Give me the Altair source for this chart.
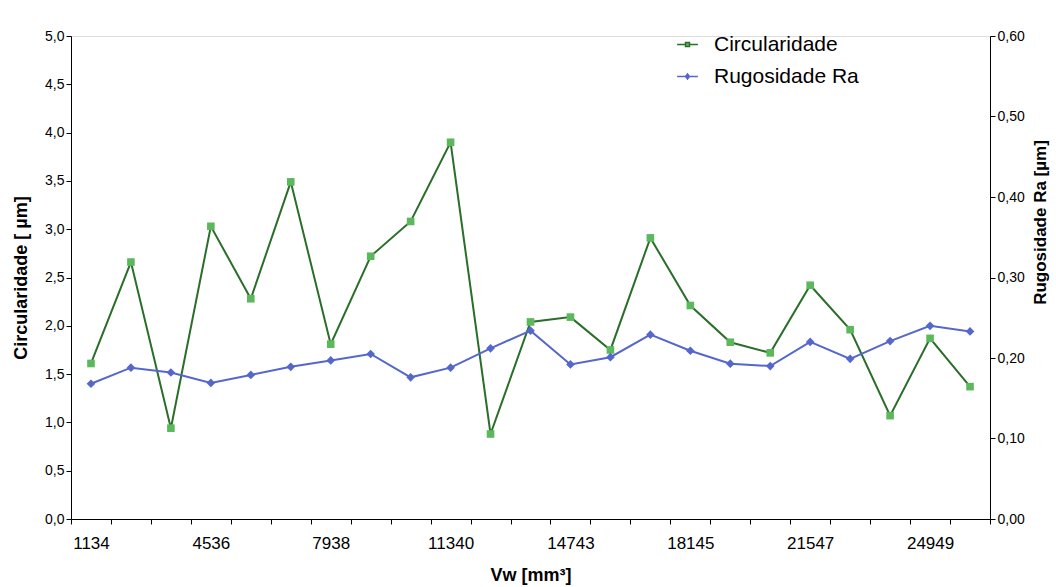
import altair as alt
import pandas as pd

vw = ["1134", "2268", "3402", "4536", "5670", "6804", "7938", "9072", "10206", "11340",
      "12474", "13608", "14743", "15877", "17011", "18145", "19279", "20413", "21547",
      "22681", "23815", "24949", "26083"]
shown_labels = ["1134", "4536", "7938", "11340", "14743", "18145", "21547", "24949"]
circularidade = [1.61, 2.66, 0.94, 3.03, 2.28, 3.49, 1.81, 2.72, 3.08, 3.90, 0.88, 2.04,
                 2.09, 1.75, 2.91, 2.21, 1.83, 1.72, 2.42, 1.96, 1.07, 1.87, 1.37]
rugosidade = [0.168, 0.188, 0.182, 0.169, 0.179, 0.189, 0.197, 0.205, 0.176, 0.188, 0.212,
              0.234, 0.192, 0.201, 0.229, 0.209, 0.193, 0.190, 0.220, 0.199, 0.221, 0.240,
              0.233]
left_ticks = [0, 0.5, 1.0, 1.5, 2.0, 2.5, 3.0, 3.5, 4.0, 4.5, 5.0]
right_ticks = [0, 0.1, 0.2, 0.3, 0.4, 0.5, 0.6]
series = ["Circularidade", "Rugosidade Ra"]

df = pd.DataFrame({"Vw": vw, "circ": circularidade, "ra": rugosidade})
legend_df = pd.DataFrame({"series": series})

FONT = "Liberation Sans"
GREEN_LINE = "#2a6e2a"
GREEN_MARK = "#5cb85c"
BLUE = "#5566cc"

label_list = "[" + ",".join("'" + s + "'" for s in shown_labels) + "]"
x_enc = alt.X(
    "Vw:O", sort=None, bandPosition=0.5,
    scale=alt.Scale(type="band", paddingInner=0, paddingOuter=0),
    axis=alt.Axis(
        title="Vw [mm³]", labelAngle=0, tickBand="extent",
        labelExpr=f"indexof({label_list}, datum.label) >= 0 ? datum.label : ''",
        labelFontSize=17, labelPadding=11, titleFontSize=18, titleFontWeight="bold",
        titlePadding=15, tickSize=5, tickColor="black", domainColor="black",
        labelColor="black", titleColor="black", grid=False,
    ),
)

sq = "M-2.6,0H-0.5M0.5,0H2.6M-0.5,-0.5H0.5V0.5H-0.5Z"
dm = "M-2.6,0H-0.5M0.5,0H2.6M0,-0.65L0.5,0L0,0.65L-0.5,0Z"

legend = alt.Legend(
    title=None, orient="none", legendX=606, legendY=-2, padding=0, direction="vertical",
    symbolSize=64, symbolStrokeWidth=1.5, labelFontSize=21, labelFont=FONT,
    labelColor="black", labelOffset=16, rowPadding=10, symbolOpacity=1,
)

y_left = alt.Y(
    "circ:Q", scale=alt.Scale(domain=[0, 5], nice=False),
    axis=alt.Axis(
        title="Circularidade [ µm]", values=left_ticks,
        labelExpr="replace(format(datum.value, '.1f'), '.', ',')",
        labelFontSize=14, titleFontSize=18, titleFontWeight="bold", titlePadding=14,
        tickSize=5, tickColor="black", domainColor="black", labelColor="black",
        titleColor="black", grid=False,
    ),
)
y_right = alt.Y(
    "ra:Q", scale=alt.Scale(domain=[0, 0.6], nice=False),
    axis=alt.Axis(
        title="Rugosidade Ra [µm]", orient="right", values=right_ticks,
        labelExpr="replace(format(datum.value, '.2f'), '.', ',')",
        labelFontSize=14, titleFontSize=17, titleFontWeight="bold", titlePadding=25,
        titleAngle=270, titleY=186, tickSize=5, tickColor="black", domainColor="black",
        labelColor="black", titleColor="black", grid=False,
    ),
)

base = alt.Chart(df)
circ_line = base.mark_line(strokeWidth=2, color=GREEN_LINE).encode(x=x_enc, y=y_left)
circ_pts = base.mark_point(shape="square", filled=True, size=58, opacity=1).encode(
    x=x_enc, y=y_left, color=alt.value(GREEN_MARK)
)
ra_line = base.mark_line(strokeWidth=2, color=BLUE).encode(x=x_enc, y=y_right)
ra_pts = base.mark_point(shape="diamond", filled=True, size=75, opacity=1).encode(
    x=x_enc, y=y_right, color=alt.value(BLUE)
)

legend_layer = alt.Chart(legend_df).transform_filter("datum.series == 'none'").mark_point(
    filled=False, size=64, strokeWidth=1.5
).encode(
    color=alt.Color("series:N", scale=alt.Scale(domain=series, range=[GREEN_LINE, BLUE]), legend=legend),
    fill=alt.Fill("series:N", scale=alt.Scale(domain=series, range=[GREEN_MARK, BLUE]), legend=legend),
    shape=alt.Shape("series:N", scale=alt.Scale(domain=series, range=[sq, dm]), legend=legend),
)

left_layer = alt.layer(circ_line, circ_pts, legend_layer)
right_layer = alt.layer(ra_line, ra_pts)

chart = alt.layer(left_layer, right_layer).resolve_scale(y="independent").properties(
    width=919, height=483,
    autosize=alt.AutoSizeParams(type="none"),
    padding={"left": 71, "top": 36, "right": 66, "bottom": 68},
).configure_view(stroke=None).configure(font=FONT)

chart.save("out.html", embed_options={"renderer": "svg", "actions": False})
